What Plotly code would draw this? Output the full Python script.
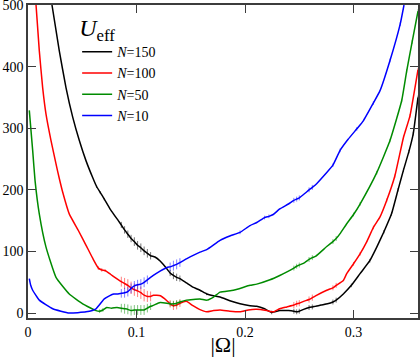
import plotly.graph_objects as go

# ---------------- data ----------------
omega_ticks = [0, 0.1, 0.2, 0.3]
omega_ticklabels = ["0", "0.1", "0.2", "0.3"]
u_ticks = [0, 100, 200, 300, 400, 500]
u_ticklabels = ["0", "100", "200", "300", "400", "500"]

series_names = ["<i>N</i>=150", "<i>N</i>=100", "<i>N</i>=50", "<i>N</i>=10"]

n150_x = [0.0221, 0.0288, 0.035, 0.0412, 0.0473, 0.0535, 0.0596, 0.0633, 0.0665, 0.0703,
          0.076, 0.0832, 0.086, 0.089, 0.092, 0.095, 0.098, 0.101, 0.104, 0.107,
          0.110, 0.113, 0.117, 0.122, 0.127, 0.131, 0.134, 0.137, 0.140, 0.146,
          0.152, 0.1585, 0.1647, 0.171, 0.177, 0.186, 0.1954, 0.2046, 0.2108, 0.218,
          0.2246, 0.232, 0.240, 0.245, 0.2476, 0.250, 0.254, 0.259, 0.262, 0.265,
          0.270, 0.276, 0.281, 0.284, 0.2906, 0.298, 0.306, 0.315, 0.3214, 0.328,
          0.335, 0.341, 0.346, 0.351, 0.355, 0.3594]
n150_y = [500, 426, 366, 318, 280, 247, 220, 205, 196, 185,
          168, 150, 143, 135, 128, 121, 116, 110, 106, 101,
          97, 93, 91, 84, 74, 65, 61, 58, 56, 49,
          42, 37, 31, 28, 26, 20, 15, 12, 11, 7,
          1, 4, 4, 3, 2, 3, 6, 9, 10, 11,
          13, 15, 18, 21, 31, 45, 64, 85, 107, 132,
          161, 200, 232, 262, 291, 350]
n150_err = [0, 0, 0, 0, 0, 0, 0, 2, 2, 2,
            0, 0, 5, 6, 6, 6, 7, 7, 7, 7,
            7, 6, 0, 0, 0, 5, 6, 6, 5, 0,
            0, 0, 2, 0, 0, 0, 0, 0, 0, 0,
            3, 0, 0, 4, 4, 4, 0, 4, 4, 0,
            0, 0, 4, 4, 0, 3, 0, 3, 0, 3,
            3, 3, 3, 3, 3, 3]

n100_x = [0.0074, 0.0104, 0.0135, 0.0166, 0.0212, 0.0258, 0.0289, 0.032, 0.038, 0.0464,
          0.0535, 0.0596, 0.0648, 0.068, 0.071, 0.076, 0.080, 0.086, 0.089, 0.092,
          0.095, 0.098, 0.101, 0.104, 0.107, 0.110, 0.113, 0.1155, 0.122, 0.128,
          0.131, 0.134, 0.137, 0.140, 0.146, 0.152, 0.158, 0.1647, 0.171, 0.177,
          0.186, 0.1954, 0.203, 0.2108, 0.220, 0.226, 0.232, 0.2385, 0.245, 0.2476,
          0.250, 0.254, 0.259, 0.262, 0.265, 0.2753, 0.281, 0.284, 0.2906, 0.2937,
          0.300, 0.306, 0.312, 0.3183, 0.3244, 0.3306, 0.338, 0.346, 0.352, 0.3594]
n100_y = [500, 426, 366, 323, 280, 242, 218, 196, 161, 134,
          110, 89, 73, 70, 69, 63, 58, 51, 48, 45,
          41, 38, 36, 33, 29, 27, 27, 29, 28, 20,
          15, 12, 13, 16, 19, 12, 6, 2, 4, 5,
          3, 2, 5, 6, 4, 2, 7, 10, 13, 15,
          16, 19, 22, 25, 28, 37, 41, 45, 53, 64,
          80, 96, 115, 139, 156, 183, 222, 285, 320, 395]
n100_err = [0, 0, 0, 0, 0, 0, 0, 0, 0, 0,
            0, 0, 3, 3, 2, 0, 0, 8, 9, 10,
            10, 10, 10, 10, 10, 9, 8, 0, 0, 0,
            6, 7, 7, 6, 0, 0, 0, 0, 0, 0,
            0, 0, 0, 0, 0, 0, 0, 0, 5, 5,
            5, 0, 5, 5, 0, 0, 4, 4, 0, 0,
            3, 3, 0, 3, 0, 3, 3, 3, 3, 3]

n50_x = [0.0012, 0.0043, 0.0065, 0.0104, 0.0166, 0.0258, 0.038, 0.0504, 0.0627, 0.066,
         0.069, 0.0725, 0.077, 0.082, 0.086, 0.089, 0.092, 0.095, 0.098, 0.101,
         0.104, 0.107, 0.110, 0.113, 0.1155, 0.1217, 0.128, 0.131, 0.134, 0.137,
         0.140, 0.146, 0.1585, 0.1647, 0.171, 0.177, 0.1892, 0.2046, 0.2108, 0.223,
         0.232, 0.240, 0.245, 0.2476, 0.250, 0.255, 0.259, 0.262, 0.265, 0.2753,
         0.281, 0.284, 0.2876, 0.2937, 0.300, 0.306, 0.3214, 0.3336, 0.3444, 0.349,
         0.354, 0.3594]
n50_y = [329, 264, 215, 161, 107, 58, 31, 15, 4, 3,
         5, 9, 8, 9, 8, 7, 6, 4, 5, 5,
         5, 5, 8, 11, 12.5, 17, 16, 15, 15, 16,
         18, 21, 23, 21, 26, 34, 37, 45, 47, 54,
         61, 68, 73, 76, 78, 82, 87, 90, 92, 108,
         116, 121, 129, 145, 160, 177, 228, 280, 345, 393,
         440, 490]
n50_err = [0, 0, 0, 0, 0, 0, 0, 0, 0, 3,
           3, 0, 0, 0, 7, 8, 8, 8, 8, 8,
           8, 8, 7, 6, 0, 0, 0, 4, 5, 5,
           4, 0, 0, 0, 0, 0, 0, 0, 0, 0,
           0, 0, 4, 4, 4, 0, 4, 4, 0, 0,
           4, 4, 0, 0, 3, 3, 3, 3, 3, 3,
           3, 3]

n10_x = [0.0012, 0.0025, 0.0043, 0.0104, 0.0228, 0.038, 0.0535, 0.0627, 0.0703, 0.075,
         0.079, 0.083, 0.086, 0.089, 0.092, 0.095, 0.098, 0.101, 0.104, 0.107,
         0.110, 0.1155, 0.1217, 0.128, 0.131, 0.134, 0.137, 0.140, 0.146, 0.1585,
         0.1647, 0.177, 0.186, 0.1954, 0.2046, 0.2108, 0.218, 0.222, 0.226, 0.232,
         0.240, 0.245, 0.2476, 0.250, 0.255, 0.259, 0.262, 0.266, 0.2753, 0.281,
         0.2876, 0.295, 0.303, 0.309, 0.3183, 0.3244, 0.3336, 0.343, 0.3465]
n10_y = [56, 45, 37, 21, 7, 0, 2, 7, 23, 28,
         31, 31, 32, 33, 35, 40, 44, 46, 47, 50,
         54, 61, 68, 74, 75, 77, 79, 82, 88, 99,
         103, 118, 125, 131, 142, 147, 155, 157, 160, 169,
         177, 183, 185, 187, 194, 200, 204, 210, 228, 240,
         264, 282, 299, 312, 341, 361, 410, 469, 500]
n10_err = [0, 0, 0, 0, 0, 0, 0, 0, 0, 0,
           0, 0, 7, 8, 8, 8, 8, 8, 8, 8,
           7, 0, 0, 0, 7, 8, 8, 7, 0, 0,
           0, 0, 0, 3, 0, 0, 3, 3, 0, 0,
           0, 4, 4, 4, 0, 4, 4, 0, 0, 3,
           3, 0, 3, 0, 3, 0, 3, 3, 0]

# ---------------- styling ----------------
serif = "Liberation Serif"
line_colors = ["rgb(0,0,0)", "rgb(255,0,0)", "rgb(0,139,0)", "rgb(0,0,255)"]
err_colors = ["rgba(0,0,0,0.55)", "rgba(255,0,0,0.5)", "rgba(0,139,0,0.5)", "rgba(0,0,255,0.5)"]
axis_color = "rgb(60,60,60)"

all_x = [n150_x, n100_x, n50_x, n10_x]
all_y = [n150_y, n100_y, n50_y, n10_y]
all_e = [n150_err, n100_err, n50_err, n10_err]

fig = go.Figure()
for name, xs, ys, es, lc, ec in zip(series_names, all_x, all_y, all_e, line_colors, err_colors):
    fig.add_trace(go.Scatter(
        x=xs, y=ys, name=name, mode="lines",
        line=dict(color=lc, width=1.5, shape="spline", smoothing=0.4),
        error_y=dict(type="data", array=es, visible=True, thickness=1, width=0, color=ec),
    ))

fig.update_layout(
    width=420, height=357,
    margin=dict(l=28, r=2, t=5, b=39, autoexpand=False),
    autosize=False,
    paper_bgcolor="white", plot_bgcolor="white",
    font=dict(family=serif, size=13, color="black"),
    showlegend=True,
    legend=dict(
        x=0.126, y=1.0, xanchor="left", yanchor="top",
        bgcolor="rgba(0,0,0,0)", borderwidth=0,
        font=dict(family=serif, size=14, color="black"),
        title=dict(text="<i>U</i><sub>eff</sub>", font=dict(family=serif, size=24, color="black")),
        itemwidth=30, tracegroupgap=0,
    ),
)

fig.update_xaxes(
    range=[0, 0.3594], tickvals=omega_ticks, ticktext=omega_ticklabels,
    ticks="inside", ticklen=8, tickwidth=1.2, tickcolor=axis_color,
    showline=True, linecolor=axis_color, linewidth=1.5, mirror="ticks",
    showgrid=False, zeroline=False, automargin=False,
    tickfont=dict(family=serif, size=14, color="black"),
    ticklabeloverflow="allow",
    title=dict(text="|Ω|", font=dict(family=serif, size=22, color="black"), standoff=2),
)
fig.update_yaxes(
    range=[-8, 500], tickvals=u_ticks, ticktext=u_ticklabels,
    ticks="inside", ticklen=8, tickwidth=1.2, tickcolor=axis_color,
    showline=True, linecolor=axis_color, linewidth=1.5, mirror="ticks",
    showgrid=False, zeroline=False, automargin=False,
    tickfont=dict(family=serif, size=14, color="black"),
    ticklabeloverflow="allow",
)

fig.write_html(
    "out.html",
    config={"displayModeBar": False},
    post_script="document.body.style.margin='0';document.body.style.overflow='hidden';",
)
